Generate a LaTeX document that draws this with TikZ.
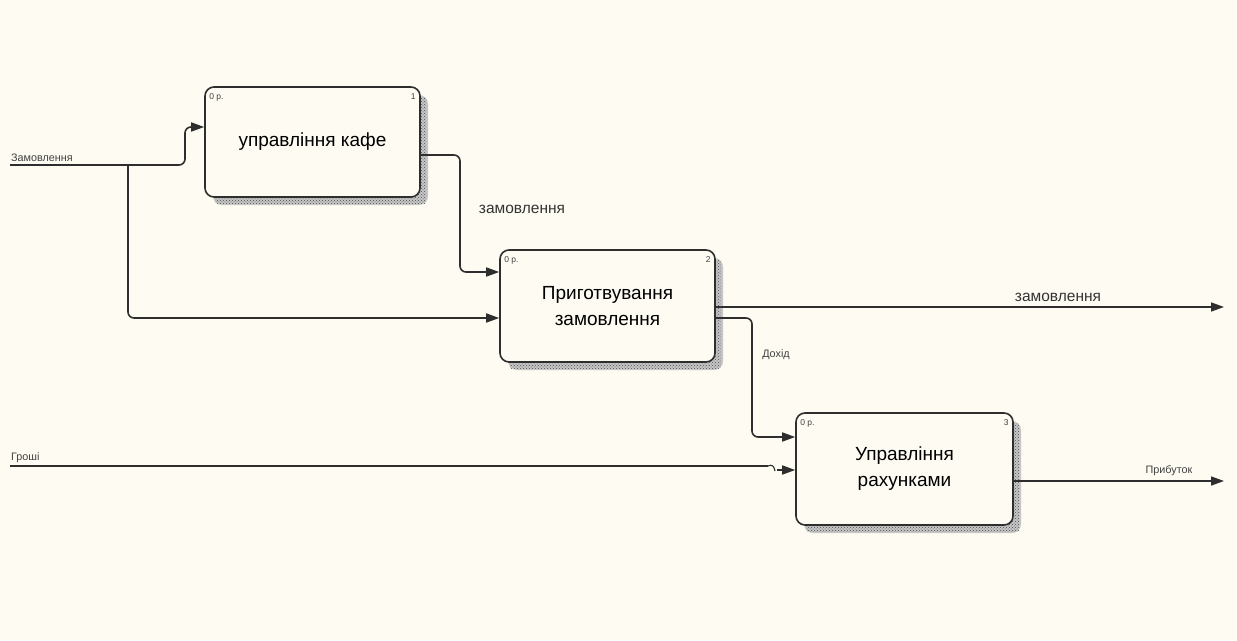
\documentclass[tikz,border=0pt]{standalone}
\usepackage{fontspec}
\setmainfont{Liberation Sans}
\usetikzlibrary{arrows.meta,patterns}
\definecolor{bgc}{HTML}{FDFBF2}
\definecolor{ln}{HTML}{2E2E2E}
\begin{document}
\begin{tikzpicture}[x=1pt,y=-1pt,
  proc/.style={draw=ln,line width=1.6pt,rounded corners=9pt,fill=bgc,align=center,font=\fontsize{19}{26}\selectfont,inner sep=0pt},
  shade/.style={fill=gray!45,draw=none,rounded corners=9pt},
  shadep/.style={pattern=crosshatch dots,pattern color=black!70,draw=none},
  conn/.style={draw=ln,line width=1.6pt,rounded corners=6pt},
  arr/.style={conn,-{Triangle[length=13pt,width=9pt]}},
  small/.style={font=\fontsize{10.8}{12}\selectfont,inner sep=1pt,text=black!75},
  lab/.style={font=\fontsize{15.5}{17}\selectfont,inner sep=1pt,text=black!80},
  corner/.style={font=\fontsize{8.5}{9}\selectfont,inner sep=0pt,text=black!75}]
\useasboundingbox (0,0) rectangle (1237,640);
\fill[bgc] (0,0) rectangle (1237,640);
% shadows
\fill[shade] (213,95) rectangle (428,205);
\fill[shadep] (215,97) rectangle (426,203);
\fill[shade] (508,258) rectangle (723,370);
\fill[shadep] (510,260) rectangle (721,368);
\fill[shade] (804,421) rectangle (1021,533);
\fill[shadep] (806,423) rectangle (1019,531);
% boxes
\node[proc,minimum width=215pt,minimum height=110pt] (b1) at (312.5,142) {управління кафе};
\node[proc,minimum width=215pt,minimum height=112pt] (b2) at (607.5,306) {Приготвування\\замовлення};
\node[proc,minimum width=217pt,minimum height=112pt] (b3) at (904.5,469) {Управління\\рахунками};
% corner labels
\node[corner,anchor=north west] (c1a) at ([shift={(5pt,-7pt)}]b1.north west) {0 р.};
\node[corner,anchor=north east] (c1b) at ([shift={(-5pt,-7pt)}]b1.north east) {1};
\node[corner,anchor=north west] (c2a) at ([shift={(5pt,-7pt)}]b2.north west) {0 р.};
\node[corner,anchor=north east] (c2b) at ([shift={(-5pt,-7pt)}]b2.north east) {2};
\node[corner,anchor=north west] (c3a) at ([shift={(5pt,-7pt)}]b3.north west) {0 р.};
\node[corner,anchor=north east] (c3b) at ([shift={(-5pt,-7pt)}]b3.north east) {3};
% free ends
\coordinate (zin) at (10,165);
\coordinate (hin) at (10,466);
\coordinate (zout) at (1224,307);
\coordinate (pout) at (1224,481);
\coordinate (br) at (128,165);
% connectors
\draw[arr] (zin) -- (185,165) -- (185,127) -- (b1.west |- 0,127);
\draw[arr] (br) -- (128,318) -- (b2.west |- 0,318);
\draw[arr] (b1.east |- 0,155) -- (460,155) -- (460,272) -- (b2.west |- 0,272);
\draw[arr] (b2.east |- 0,307) -- (zout);
\draw[arr] (b2.east |- 0,318) -- (752,318) -- (752,437) -- (b3.west |- 0,437);
\draw[conn] (hin) -- (768,466);
\draw[ln,line width=1.1pt] (768,466) .. controls (772,464) and (774,466) .. (775,471);
\draw[arr] (777,470) -- (b3.west |- 0,470);
\draw[arr] (b3.east |- 0,481) -- (pout);
% labels
\node[small,anchor=south west] (lz) at (10,163) {Замовлення};
\node[small,anchor=south west] (lh) at (10,464) {Гроші};
\node[lab] (l1) at (522,209) {замовлення};
\node[lab] (l2) at (1058,297) {замовлення};
\node[small] (l3) at (776,355) {Дохід};
\node[small] (l4) at (1169,471) {Прибуток};
\end{tikzpicture}
\end{document}
